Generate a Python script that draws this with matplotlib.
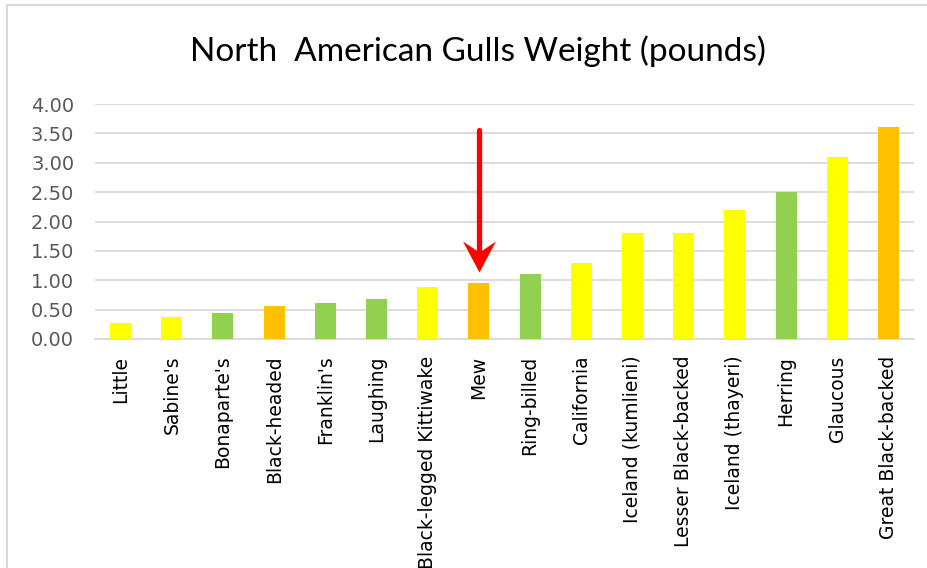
import matplotlib
matplotlib.use("Agg")
import matplotlib.pyplot as plt
from matplotlib.patches import Rectangle
from matplotlib.path import Path

categories = ["Little", "Sabine's", "Bonaparte's", "Black-headed", "Franklin's",
              "Laughing", "Black-legged Kittiwake", "Mew", "Ring-billed", "California",
              "Iceland (kumlieni)", "Lesser Black-backed", "Iceland (thayeri)",
              "Herring", "Glaucous", "Great Black-backed"]
weights = [0.27, 0.37, 0.45, 0.57, 0.62, 0.68, 0.88, 0.95, 1.10, 1.30,
           1.80, 1.80, 2.20, 2.50, 3.10, 3.60]
color_groups = ["Y", "Y", "G", "O", "G", "G", "Y", "O", "G", "Y",
                "Y", "Y", "Y", "G", "Y", "O"]
palette = {"Y": "#FFFF00", "G": "#92D050", "O": "#FFC000"}
yticks = [0.0, 0.5, 1.0, 1.5, 2.0, 2.5, 3.0, 3.5, 4.0]
title = "North  American Gulls Weight (pounds)"
highlight = "Mew"
arrow_tail, arrow_tip = 3.56, 1.14

plt.rcParams['font.family'] = ['DejaVu Sans']

fig = plt.figure(figsize=(9.28, 5.68), dpi=100)
fig.patches.append(Rectangle((7/928, -0.1), 2, 1.1 - 5/568, transform=fig.transFigure,
                             fill=False, edgecolor="#D9D9D9", lw=1.5))
ax = fig.add_axes([95/928, 1 - 339/568, 819/928, 235/568])

x = list(range(len(categories)))
ax.bar(x, weights, width=0.41, color=[palette[c] for c in color_groups], zorder=3)

ax.set_xlim(-0.5, len(categories) - 0.5)
ax.set_ylim(0, 4.0)
ax.set_yticks(yticks)
ax.set_yticklabels([f"{v:.2f}" for v in yticks], color="#595959", fontsize=14)
ax.set_xticks(x)
ax.set_xticklabels(categories, rotation=90, fontsize=13.5, color="#000000")
ax.tick_params(axis='both', length=0)
ax.tick_params(axis='x', pad=12)
ax.tick_params(axis='y', pad=15)
ax.yaxis.grid(True, color="#D9D9D9", lw=1.3, zorder=0)
for s in ["top", "right", "left"]:
    ax.spines[s].set_visible(False)
ax.spines["bottom"].set_color("#D9D9D9")
ax.spines["bottom"].set_linewidth(1.3)
ax.set_axisbelow(True)

fig.text(478/928, 1 - 51/568, title, ha="center", va="center", fontsize=24,
         color="#000000", family="Lato")

# red arrow pointing at the highlighted bar
i = categories.index(highlight)
head = Path([(0, 0), (-16.5, 31), (0, 20), (16.5, 31), (0, 0)],
            [Path.MOVETO, Path.LINETO, Path.LINETO, Path.LINETO, Path.CLOSEPOLY])
ax.plot([i, i], [arrow_tail, arrow_tip + 0.28], color="#FF0000", lw=3.8,
        solid_capstyle="round", zorder=5)
ax.plot([i], [arrow_tip], marker=head, markersize=44.6, color="#FF0000",
        markeredgewidth=0, zorder=6)

fig.savefig("out.png", dpi=100)
